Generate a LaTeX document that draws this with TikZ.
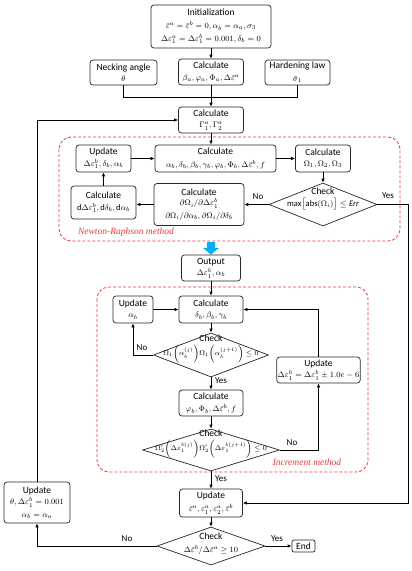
\documentclass[tikz,border=0pt]{standalone}
\usepackage{fontspec}
\setmainfont{Carlito}
\newfontfamily\serifit{Liberation Serif}
\usetikzlibrary{arrows.meta,shapes.geometric}
\definecolor{nrred}{RGB}{240,55,55}
\definecolor{bluearr}{RGB}{0,176,240}
\newcommand{\hd}[1]{{\fontsize{9.5}{10}\selectfont #1}}
\begin{document}
\begin{tikzpicture}[x=1pt,y=-1pt,
  txt/.style={font=\fontsize{8.5}{11.5}\selectfont, align=center, inner sep=0pt},
  box/.style={txt, draw=black!85, line width=0.7pt, rounded corners=3pt, inner sep=1pt},
  sz/.style 2 args={minimum width=#1pt, minimum height=#2pt},
  dia/.style={draw=black!85, line width=0.7pt, shape=diamond, inner sep=0pt},
  arr/.style={line width=0.7pt, -{Latex[length=4pt,width=3.4pt]}},
  ln/.style={line width=0.7pt},
  lab/.style={font=\fontsize{9}{10}\selectfont, inner sep=0pt},
  regionbox/.style={draw=nrred, line width=0.8pt, dash pattern=on 3pt off 2pt, rounded corners=12pt},
  redlab/.style={text=nrred, font=\fontsize{9.5}{11}\selectfont\serifit\itshape, inner sep=0pt}
]
\path[use as bounding box] (0,0) rectangle (412,571);

% top part
\node[box,sz={120}{43}] (init) at (211,26.5) {\hd{Initialization}\\[1.5pt] $\bar\varepsilon^a=\bar\varepsilon^b=0,\alpha_b=\alpha_a,\sigma_3$\\[1pt] $\Delta\varepsilon_1^a=\Delta\varepsilon_1^b=0.001,\delta_b=0$};
\node[box,sz={67}{25}] (neck) at (123.5,72.5) {\hd{Necking angle}\\ $\theta$};
\node[box,sz={65}{26}] (calc1) at (211,72) {\hd{Calculate}\\[1pt] $\beta_a,\varphi_a,\Phi_a,\Delta\bar\varepsilon^a$};
\node[box,sz={65}{25}] (hard) at (297.5,72.5) {\hd{Hardening law}\\[1pt] $\bar\sigma_1$};
\node[box,sz={65}{26}] (gamma) at (211,120) {\hd{Calculate}\\ $\Gamma_1^a,\Gamma_2^a$};

% Newton-Raphson region
\draw[regionbox] (59,137) rectangle (400,241);
\node[box,sz={55}{27}] (upd1) at (103.5,158.5) {\hd{Update}\\ $\Delta\varepsilon_1^b,\delta_b,\alpha_b$};
\node[box,sz={121}{27}] (calc2) at (215.5,158.5) {\hd{Calculate}\\[1pt] $\alpha_b,\delta_b,\beta_b,\gamma_b,\varphi_b,\Phi_b,\Delta\bar\varepsilon^b,f$};
\node[box,sz={55}{27}] (omega) at (323,158.5) {\hd{Calculate}\\ $\Omega_1,\Omega_2,\Omega_3$};
\node[dia,minimum width=108pt,minimum height=43pt] (check1) at (323,204.5) {};
\node[txt] (check1t) at (323,199) {\hd{Check}\\ $\max\bigl[\mathrm{abs}(\Omega_i)\bigr]\le \mathit{Err}$};
\node[box,sz={90}{42}] (dcalc) at (199,204.5) {\hd{Calculate}\\[-1pt] $\partial\Omega_i/\partial\Delta\varepsilon_1^b$\\[1pt] {\fontsize{8}{10}\selectfont$\partial\Omega_i/\partial\alpha_b,\partial\Omega_i/\partial\delta_b$}};
\node[box,sz={65}{33}] (dd) at (103.5,202.5) {\hd{Calculate}\\ $\mathrm{d}\Delta\varepsilon_1^b,\mathrm{d}\delta_b,\mathrm{d}\alpha_b$};
\node[lab] (no1) at (258,197) {No};
\node[lab] (yes1) at (388,196) {Yes};
\node[redlab] (nrlab) at (126,232) {Newton-Raphson method};

% blue arrow
\fill[bluearr] (207,242) -- (215,242) -- (215,248) -- (219,248) -- (211,254.5) -- (203,248) -- (207,248) -- cycle;

\node[box,sz={59}{26}] (output) at (211,268) {\hd{Output}\\ $\Delta\varepsilon_1^b,\alpha_b$};

% Increment region
\draw[regionbox] (97,287) rectangle (368,472);
\node[box,sz={40}{27}] (upda) at (133,309.5) {\hd{Update}\\ $\alpha_b$};
\node[box,sz={64}{27}] (calc3) at (211,309.5) {\hd{Calculate}\\ $\delta_b,\beta_b,\gamma_b$};
\node[dia,minimum width=115pt,minimum height=44pt] (check2) at (211,355) {};
\node[txt] (check2t) at (211,349) {\hd{Check}\\[2pt] \fontsize{7.5}{8}\selectfont$\Omega_1\bigl(\alpha_b^{(j)}\bigr)\Omega_1\bigl(\alpha_b^{(j+1)}\bigr)\le 0$};
\node[box,sz={83}{26}] (updde) at (318.5,370) {\hd{Update}\\ {\fontsize{8}{10}\selectfont$\Delta\varepsilon_1^b=\Delta\varepsilon_1^b\pm1.0e-6$}};
\node[box,sz={64}{26}] (calc4) at (211,403) {\hd{Calculate}\\[1pt] $\varphi_b,\Phi_b,\Delta\bar\varepsilon^b,f$};
\node[dia,minimum width=137pt,minimum height=42pt] (check3) at (211,450) {};
\node[txt] (check3t) at (211,444) {\hd{Check}\\[2pt] \fontsize{7.5}{8}\selectfont$\Omega_2'\bigl(\Delta\varepsilon_1^{b(j)}\bigr)\Omega_2'\bigl(\Delta\varepsilon_1^{b(j+1)}\bigr)\le 0$};
\node[lab] (no2) at (142,348) {No};
\node[lab] (yes2) at (221,381) {Yes};
\node[lab] (no3) at (292,443) {No};
\node[lab] (yes3) at (221,479) {Yes};
\node[redlab] (inclab) at (307,462) {Increment method};

% bottom
\node[box,sz={63}{28}] (updm) at (211,503) {\hd{Update}\\[2pt] $\bar\varepsilon^a,\varepsilon_1^a,\varepsilon_2^a,\bar\varepsilon^b$};
\node[box,sz={66}{41}] (updl) at (37,502.5) {\hd{Update}\\ $\theta,\Delta\varepsilon_1^b=0.001$\\[1pt] $\alpha_b=\alpha_a$};
\node[dia,minimum width=108pt,minimum height=38pt] (check4) at (211,546) {};
\node[txt] (check4t) at (211,543.5) {\hd{Check}\\[1pt] $\Delta\bar\varepsilon^b/\Delta\bar\varepsilon^a\ge10$};
\node[box,sz={23}{12},rounded corners=2pt] (endn) at (303.5,546) {\hd{End}};
\node[lab] (no4) at (127,539) {No};
\node[lab] (yes4) at (277,539) {Yes};

% connectors
\coordinate (jn) at (123.5,97);
\coordinate (rx) at (408,503);
\draw[arr] (init.south) -- (calc1.north);
\draw[ln] (neck.south) -- (jn) -| (hard.south);
\draw[arr] (calc1.south) -- (gamma.north);
\draw[arr] (gamma.south) -- (gamma.south |- calc2.north);
\draw[arr] (upd1.east) -- (calc2.west);
\draw[arr] (calc2.east) -- (omega.west);
\draw[arr] (omega.south) -- (check1.north);
\draw[arr] (check1.west) -- (dcalc.east);
\draw[arr] (dcalc.west) -- (dcalc.west -| dd.east);
\draw[arr] (dd.north) -- (upd1.south);
\draw[arr] (check1.east) -| (rx) -- (updm.east);
\draw[arr] (output.south) -- (calc3.north);
\draw[arr] (upda.east) -- (calc3.west);
\draw[arr] (calc3.south) -- (check2.north);
\draw[arr] (check2.west) -| (upda.south);
\draw[arr] (check2.south) -- (calc4.north);
\draw[arr] (calc4.south) -- (check3.north);
\draw[arr] (check3.east) -| (updde.south);
\draw[arr] (updde.north) |- (calc3.east);
\draw[arr] (check3.south) -- (updm.north);
\draw[arr] (updm.south) -- (check4.north);
\draw[arr] (check4.east) -- (endn.west);
\draw[arr] (check4.west) -| (updl.south);
\draw[arr] (updl.north) |- (gamma.west);
\end{tikzpicture}
\end{document}
